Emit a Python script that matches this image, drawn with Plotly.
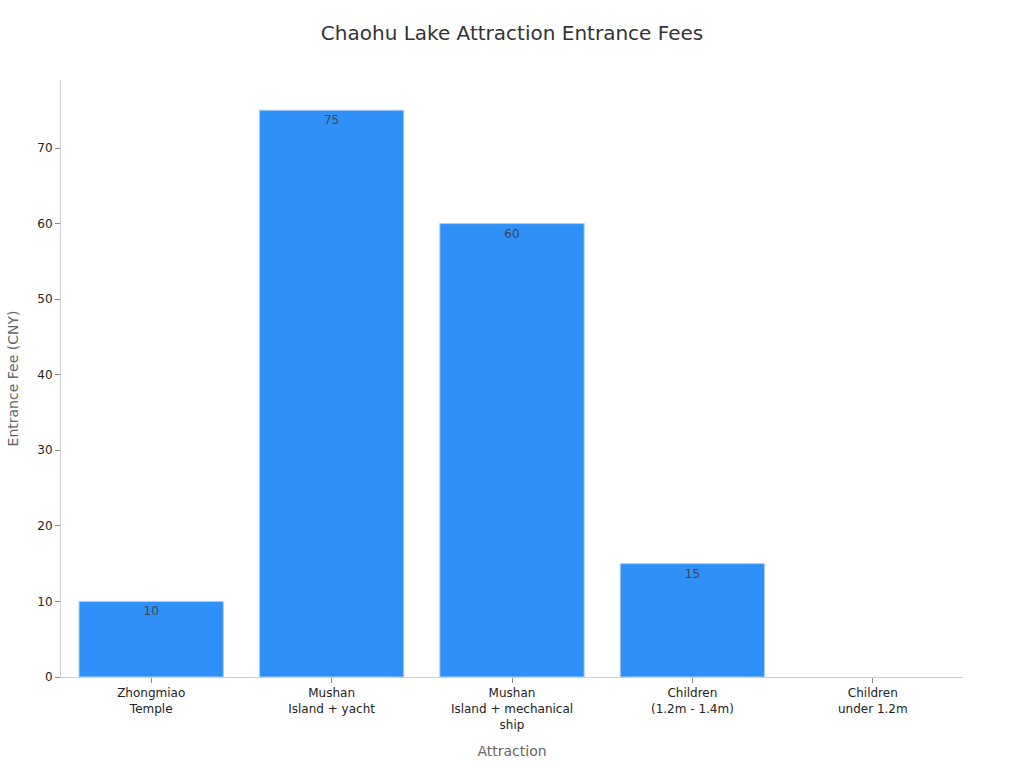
import plotly.graph_objects as go

categories = ["Zhongmiao<br>Temple", "Mushan<br>Island + yacht", "Mushan<br>Island + mechanical<br>ship",
              "Children<br>(1.2m - 1.4m)", "Children<br>under 1.2m"]
fees = [10, 75, 60, 15, 0]
labels = ["10", "75", "60", "15", ""]

fig = go.Figure(go.Bar(
    x=categories, y=fees, text=labels,
    textposition="inside", insidetextanchor="end",
    textfont=dict(color="#444444", size=12),
    marker=dict(color="#2f91f7",
                line=dict(color="#a8cff7", width=[1 if v > 0 else 0 for v in fees])),
    width=0.8,
))

fig.update_layout(
    width=1024, height=768,
    font=dict(family="DejaVu Sans", color="#222222"),
    title=dict(text="Chaohu Lake Attraction Entrance Fees", x=0.5, xanchor="center",
               y=0.957, yanchor="middle",
               font=dict(size=20, color="#333333")),
    plot_bgcolor="white", paper_bgcolor="white",
    margin=dict(l=61, r=61, t=80, b=91),
    showlegend=False,
    bargap=0.2,
)
fig.update_xaxes(
    title=dict(text="Attraction", font=dict(size=14, color="#666666"), standoff=15),
    showline=True, linecolor="#d0d0d0", ticks="outside", tickcolor="#888888", ticklen=5,
    tickfont=dict(size=12, color="#222222"), showgrid=False,
)
fig.update_yaxes(
    title=dict(text="Entrance Fee (CNY)", font=dict(size=14, color="#666666")),
    showline=True, linecolor="#d0d0d0", ticks="outside", tickcolor="#888888", ticklen=5,
    tickfont=dict(size=12, color="#222222"), showgrid=False, zeroline=False,
    range=[0, 79], dtick=10,
)

fig.write_html("out.html")
